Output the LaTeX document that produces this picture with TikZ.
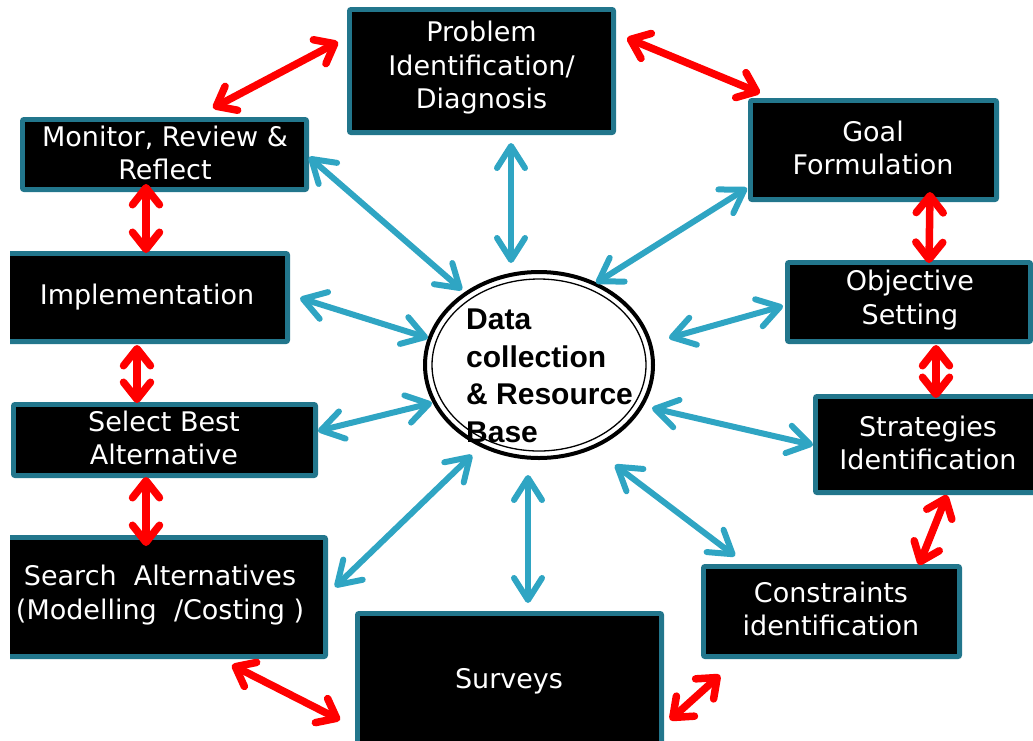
\documentclass[tikz,border=0pt]{standalone}
\usepackage{fontspec}
\setmainfont{DejaVu Sans}
\newfontfamily\ellfont{Liberation Sans}
\usetikzlibrary{arrows.meta,calc,shapes.geometric}
\definecolor{boxedge}{RGB}{34,118,140}
\definecolor{linkblue}{RGB}{47,165,195}
\definecolor{linkred}{RGB}{255,0,0}
\tikzset{
  stagebox/.style={draw=boxedge, line width=4pt, fill=black, rounded corners=2pt,
    inner sep=0pt, minimum width=#1},
  stagetext/.style={text=white, align=center, inner sep=0pt,
    font=\fontsize{27}{33.5}\selectfont},
  innerframe/.style={draw=boxedge, line width=1.3pt},
  bluelink/.style={draw=linkblue, line width=6pt, line cap=round,
    {Straight Barb[length=22pt,width=28pt,round]}-{Straight Barb[length=22pt,width=28pt,round]}},
  redlink/.style={draw=linkred, line width=7.5pt, line cap=round,
    {Straight Barb[length=17pt,width=27pt,round]}-{Straight Barb[length=17pt,width=27pt,round]}},
}
\begin{document}
\begin{tikzpicture}[x=1pt,y=-1pt]
\useasboundingbox (0,0) rectangle (1033,740);
\begin{scope}
\clip (10,0) rectangle (1033,740);

% stage boxes
\node[stagebox=265pt, minimum height=124pt] (prob)   at (481.5,71)  {};
\node[stagebox=285pt, minimum height=71pt]  (mon)    at (164.5,154.5) {};
\node[stagebox=247pt, minimum height=100pt] (goal)   at (873.5,150) {};
\node[stagebox=244pt, minimum height=80pt]  (obj)    at (909,302)   {};
\node[stagebox=308pt, minimum height=89pt]  (impl)   at (134,297.5) {};
\node[stagebox=230pt, minimum height=97pt]  (strat)  at (930,444.5) {};
\node[stagebox=303pt, minimum height=72pt]  (sel)    at (164.5,440) {};
\node[stagebox=336pt, minimum height=120pt] (search) at (158,597)   {};
\node[stagebox=257pt, minimum height=91pt]  (cons)   at (831.5,611.5) {};
\node[stagebox=305pt, minimum height=157pt] (surv)   at (509.5,691.5) {};

% inner frame line of each box
\foreach \b in {prob,mon,goal,obj,impl,strat,sel,search,cons,surv}
  \draw[innerframe] ([shift={(4.5,4.5)}]\b.north west) rectangle ([shift={(-4.5,-4.5)}]\b.south east);

% box labels
\node[stagetext] (prob-t)   at (481.5,68) {Problem\\Identification/\\Diagnosis};
\node[stagetext] (mon-t)    at (165,153)  {Monitor, Review \&\\Reflect};
\node[stagetext] (goal-t)   at (873,148)  {Goal\\Formulation};
\node[stagetext] (obj-t)    at (910,300)  {Objective\\Setting};
\node[stagetext] (impl-t)   at (147,297)  {Implementation};
\node[stagetext] (strat-t)  at (928,443)  {Strategies\\Identification};
\node[stagetext] (sel-t)    at (164,438)  {Select Best\\Alternative};
\node[stagetext] (search-t) at (160,595)  {Search\ \ Alternatives\\(Modelling\ \ /Costing\ )};
\node[stagetext] (cons-t)   at (831,609)  {Constraints\\identification};
\node[stagetext] (surv-t)   at (509,681)  {Surveys};

% central ellipse
\node[ellipse, draw=black, line width=4pt, fill=white, minimum width=228pt,
      minimum height=186pt, inner sep=0pt] (ell) at (539,365) {};
\draw[black, line width=1.3pt] (ell.center) ellipse [x radius=107, y radius=86];
\node[anchor=west, align=left, inner sep=0pt,
      font=\ellfont\bfseries\fontsize{30}{37.5}\selectfont] (ell-t) at (466,376)
      {Data\\collection\\\& Resource\\Base};

% links to the central ellipse
\draw[bluelink] ($(mon.east)+(0,2.5)$)      -- ($(ell.center)+(-77,-75)$);
\draw[bluelink] ($(prob.south)+(29.5,8)$)   -- ($(ell.center)+(-28,-102)$);
\draw[bluelink] ($(goal.west)+(-1,38)$)     -- ($(ell.center)+(57,-82)$);
\draw[bluelink] ($(impl.east)+(10,0.5)$)    -- ($(ell.center)+(-111,-27)$);
\draw[bluelink] ($(obj.west)+(-2,4)$)       -- ($(ell.center)+(130,-27)$);
\draw[bluelink] ($(sel.east)+(0,-9)$)       -- ($(ell.center)+(-107,38)$);
\draw[bluelink] ($(strat.west)+(0,0.5)$)    -- ($(ell.center)+(113,43)$);
\draw[bluelink] ($(search.east)+(7,-10)$)   -- ($(ell.center)+(-67,90)$);
\draw[bluelink] ($(surv.north)+(18.5,-8)$)  -- ($(ell.center)+(-11,110)$);
\draw[bluelink] ($(cons.north)+(-96.5,-8)$) -- ($(ell.center)+(76,100)$);

% links around the cycle
\draw[redlink] ($(prob.west)+(-9,-29)$)    -- ($(mon.north)+(48.5,-9)$);
\draw[redlink] ($(prob.east)+(11,-33)$)    -- ($(goal.north)+(-113.5,-5)$);
\draw[redlink] ($(goal.south)+(56.5,-10)$) -- ($(obj.north)+(20,3)$);
\draw[redlink] ($(obj.south)+(27,1)$)      -- ($(strat.north)+(6,4)$);
\draw[redlink] ($(strat.south)+(17,0)$)    -- ($(cons.north)+(87.5,1)$);
\draw[redlink] ($(mon.south)+(-18.5,-8)$)  -- ($(impl.north)+(12,2)$);
\draw[redlink] ($(impl.south)+(3,1)$)      -- ($(sel.north)+(-27.5,1)$);
\draw[redlink] ($(sel.south)+(-18.5,-1)$)  -- ($(search.north)+(-12,11)$);
\draw[redlink] ($(search.south)+(74,6)$)   -- ($(surv.west)+(-15,28.5)$);
\draw[redlink] ($(surv.east)+(6,28.5)$)    -- ($(cons.south)+(-111.5,16)$);
\end{scope}
\end{tikzpicture}
\end{document}
